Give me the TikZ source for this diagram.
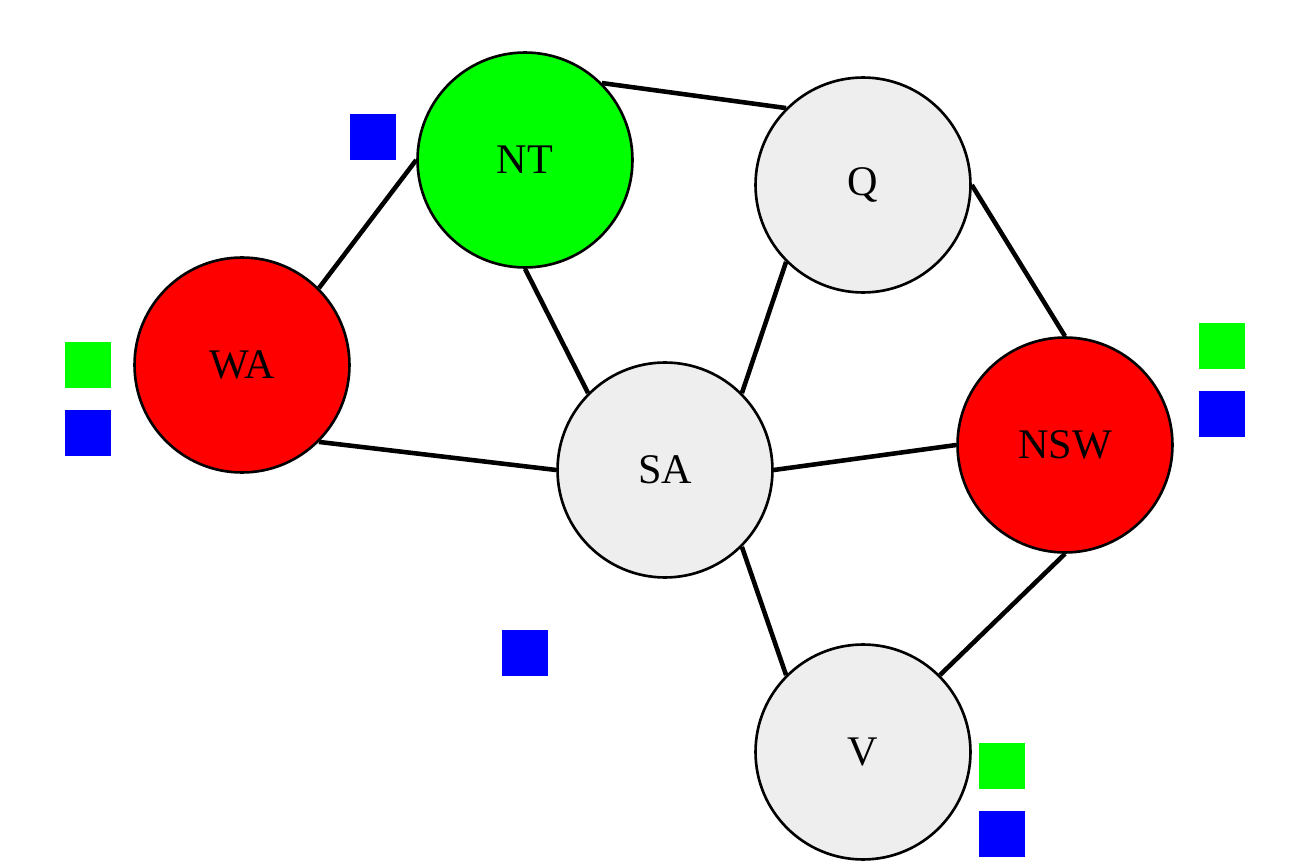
\documentclass[tikz,border=0pt]{standalone}
\usepackage{fontspec}
\setmainfont{Liberation Serif}
\usepackage{xcolor}
\usepackage{tikz}
\usetikzlibrary{shapes,arrows,positioning,calc}

\definecolor{regred}{HTML}{FF0000}
\definecolor{reggreen}{HTML}{00FF00}
\definecolor{regblue}{HTML}{0000FF}
\definecolor{reggray}{HTML}{EEEEEE}

\begin{document}
\begin{tikzpicture}[x=0.02cm, y=-0.02cm,
        region/.style={circle, draw=black, line width=1.5pt, minimum size=4.3cm,
            inner sep=0pt, font=\fontsize{24}{28}\selectfont},
        dom/.style={rectangle, minimum size=0.92cm, inner sep=0pt},
        border/.style={line width=2.6pt}]
        \useasboundingbox (0,0) rectangle (1303,868);
        % regions
        \node[region, fill=reggreen] (NT) at (525,160) {NT};
        \node[region, fill=reggray] (Q) at (863,185) {Q};
        \node[region, fill=regred] (WA) at (242,365) {WA};
        \node[region, fill=reggray] (SA) at (665,470) {SA};
        \node[region, fill=regred] (NSW) at (1065,445) {NSW};
        \node[region, fill=reggray] (V) at (863,752) {V};

        % borders between regions
        \foreach \a/\b in {NT.north east/Q.north west, WA.north east/NT.west,
                NT.south/SA.north west, Q.south west/SA.north east, Q.east/NSW.north,
                WA.south east/SA.west, SA.east/NSW.west, SA.south east/V.north west,
                NSW.south/V.north east}
            \draw[border] (\a) -- (\b);

        % remaining domains
        \node[dom, fill=regblue] (ntB) at (373,137) {};
        \node[dom, fill=reggreen] (waG) at (88,365) {};
        \node[dom, fill=regblue] (waB) at (88,433) {};
        \node[dom, fill=reggreen] (nswG) at (1222,346) {};
        \node[dom, fill=regblue] (nswB) at (1222,414) {};
        \node[dom, fill=regblue] (saB) at (525,653) {};
        \node[dom, fill=reggreen] (vG) at (1002,766) {};
        \node[dom, fill=regblue] (vB) at (1002,834) {};
\end{tikzpicture}
\end{document}
